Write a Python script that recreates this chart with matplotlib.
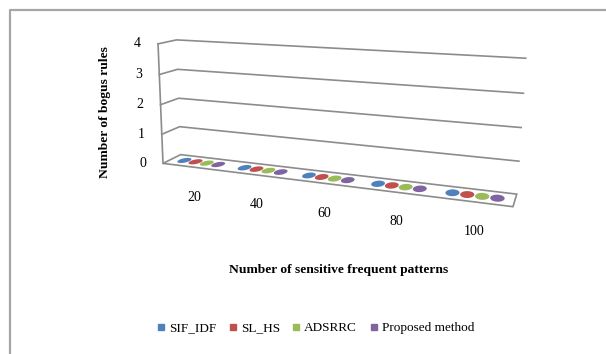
import matplotlib
matplotlib.use("Agg")
import matplotlib.pyplot as plt
import numpy as np
from matplotlib.lines import Line2D

categories = ["20", "40", "60", "80", "100"]
series_names = ["SIF_IDF", "SL_HS", "ADSRRC", "Proposed method"]
sif_idf = [0, 0, 0, 0, 0]
sl_hs = [0, 0, 0, 0, 0]
adsrrc = [0, 0, 0, 0, 0]
proposed = [0, 0, 0, 0, 0]
y_ticks = [0, 1, 2, 3, 4]

series = [sif_idf, sl_hs, adsrrc, proposed]
colors = ["#4F81BD", "#C0504D", "#9BBB59", "#8064A2"]
grid_color = "#8c8c8c"

W, H = 606, 354

# (category, depth, value) -> canvas pixel, used to fit the 3d camera
CALIB = [
    ((0, 0, 0), (164, 163)),
    ((0, 1, 0), (181, 155)),
    ((0, 0, 4), (157, 44)),
    ((0, 1, 4), (178, 40)),
    ((0, 1, 3), (178, 69)),
    ((0, 1, 2), (178, 98)),
    ((0, 1, 1), (178, 127)),
    ((5, 1, 4), (526, 58)),
    ((5, 1, 3), (523, 93)),
    ((5, 1, 2), (521, 128)),
    ((5, 1, 1), (519, 162)),
    ((5, 1, 0), (517, 193)),
    ((5, 0, 0), (513, 207)),
]


def fit_camera(pairs):
    s = 300.0
    rows = []
    for (x, z, y), (u, v) in pairs:
        p = [x, y, z, 1.0]
        un, vn = (u - s) / s, (v - s) / s
        rows.append(p + [0.0] * 4 + [-un * c for c in p])
        rows.append([0.0] * 4 + p + [-vn * c for c in p])
    _, _, vt = np.linalg.svd(np.array(rows, dtype=float))
    return vt[-1].reshape(3, 4), s


CAM, SCALE = fit_camera(CALIB)


def project(x, z, y):
    x, z, y = np.broadcast_arrays(np.asarray(x, float), np.asarray(z, float),
                                  np.asarray(y, float))
    pts = np.stack([x, y, z, np.ones_like(x)])
    q = CAM @ pts.reshape(4, -1)
    u = q[0] / q[2] * SCALE + SCALE
    v = q[1] / q[2] * SCALE + SCALE
    return u.reshape(x.shape), v.reshape(x.shape)


plt.rcParams["font.family"] = ["Liberation Serif", "DejaVu Serif"]

fig = plt.figure(figsize=(W / 100, H / 100), dpi=100)
ax = fig.add_axes([0, 0, 1, 1])
ax.set_xlim(0, W)
ax.set_ylim(H, 0)
ax.axis("off")

# outer chart border (only top and left are in frame)
ax.plot([10, 10, W + 5], [H + 5, 10, 10], color="#a6a6a6", lw=1.6,
        solid_capstyle="butt")

n_cat = len(categories)
top = y_ticks[-1]

# side + back wall gridlines
for t in y_ticks[1:]:
    u, v = project([0, 0, n_cat], [0, 1, 1], [t, t, t])
    ax.plot(u, v, color=grid_color, lw=1.2, zorder=2)

# vertical axis line at the front-left edge
u, v = project([0, 0], [0, 0], [0, top])
ax.plot(u, v, color=grid_color, lw=1.2, zorder=2)

# floor
u, v = project([0, 0, n_cat, n_cat], [0, 1, 1, 0], [0, 0, 0, 0])
ax.fill(u, v, facecolor="white", edgecolor=grid_color, lw=1.2, zorder=3)

# zero-height cylinders show up as flat discs on the floor
width = 0.19
theta = np.linspace(0, 2 * np.pi, 60)
for j, (vals, col) in enumerate(zip(series, colors)):
    for i, val in enumerate(vals):
        cx = i + 0.5 + (j - 1.5) * width
        u, v = project(cx + 0.088 * np.cos(theta), 0.5 + 0.28 * np.sin(theta),
                       np.full_like(theta, val))
        ax.fill(u, v, color=col, lw=0, zorder=4)

# value tick labels
for t in y_ticks:
    u, v = project(0, 0, t)
    ax.text(float(u) - 17, float(v), str(t), ha="right", va="center",
            fontsize=10, color="black")

# category labels
for i, lab in enumerate(categories):
    u, v = project(i + 0.5, 0, 0)
    ax.text(float(u) + 2, float(v) + 30, lab, ha="center", va="center",
            fontsize=10, color="black")

ax.text(105, 112, "Number of bogus rules", rotation=90, ha="center",
        va="center", fontsize=9.7, fontweight="bold")
ax.text(339, 270, "Number of sensitive frequent patterns", ha="center",
        va="center", fontsize=9.7, fontweight="bold")

handles = [Line2D([], [], marker="s", ls="none", color=c, markersize=5)
           for c in colors]
fig.legend(handles, series_names, loc="center", ncol=4, frameon=False,
           bbox_to_anchor=(316 / W, 1 - 328 / H), fontsize=9.5,
           handlelength=0.5, handletextpad=0.35, columnspacing=1.0)

fig.savefig("out.png", dpi=100)
